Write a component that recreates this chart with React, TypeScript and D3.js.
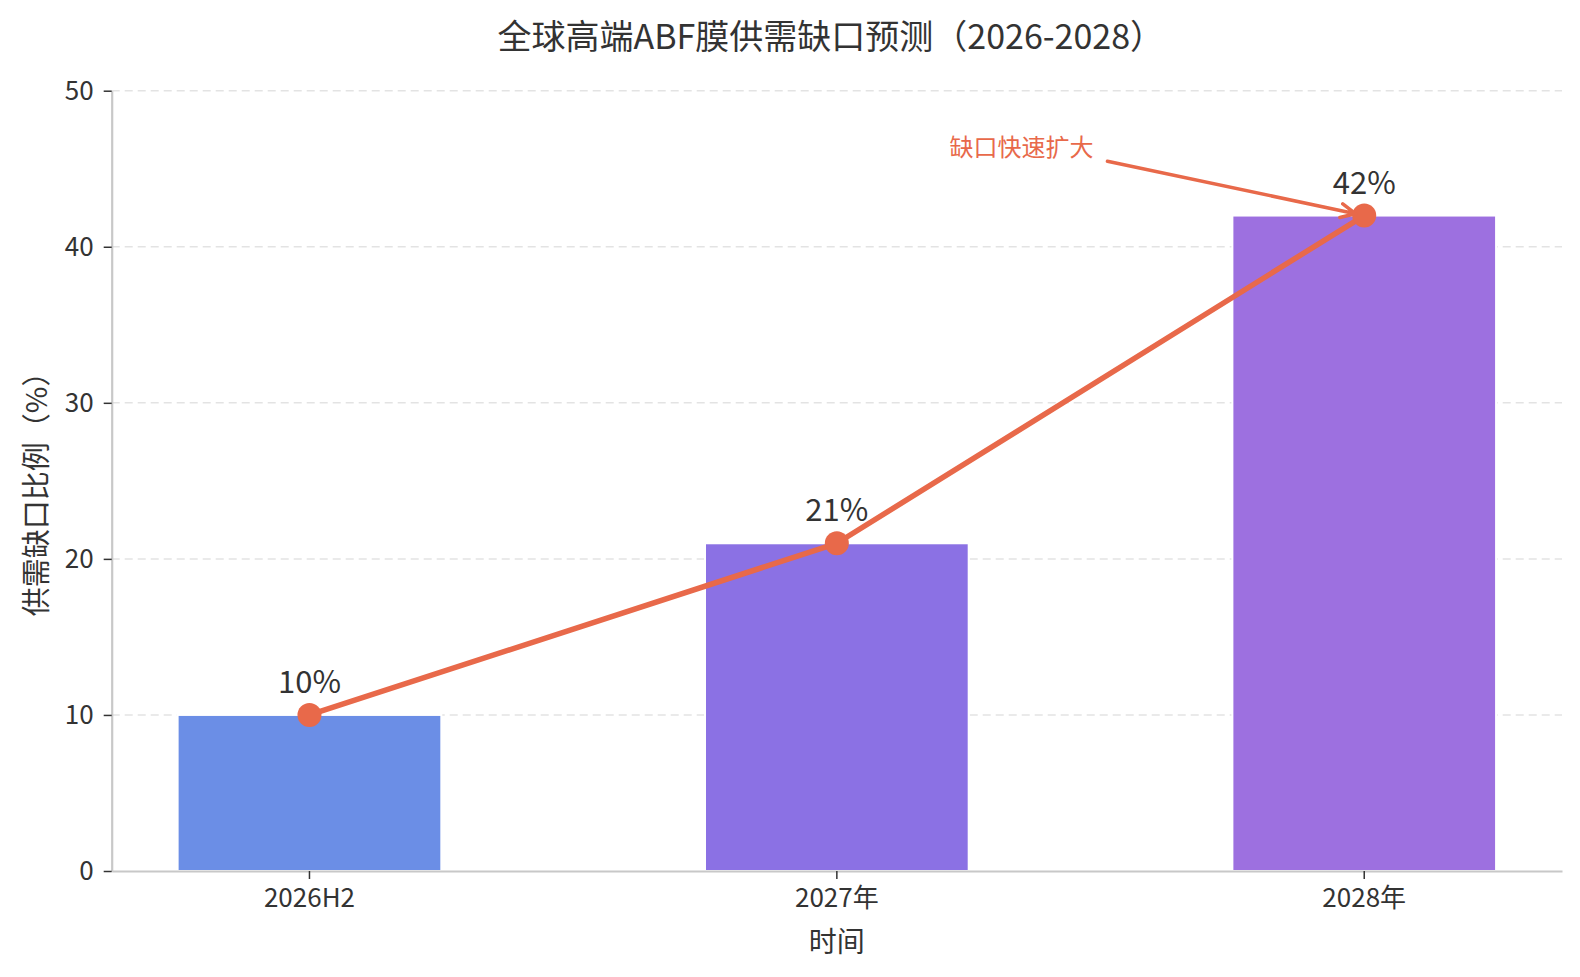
import { useEffect, useRef } from 'react'
import * as d3 from 'd3'

const categories = ['2026H2', '2027年', '2028年']
const gapValues = [10, 21, 42]
const barColors = ['#6b8ee6', '#8b71e4', '#9d70e0']
const yTicks = [0, 10, 20, 30, 40, 50]
const valueLabels = ['10%', '21%', '42%']

const title = '全球高端ABF膜供需缺口预测（2026-2028）'
const xLabel = '时间'
const yLabel = '供需缺口比例（%）'
const noteText = '缺口快速扩大'

const FONT = '"Noto Sans CJK SC", "Noto Sans", sans-serif'
const LINE_COLOR = '#e8694a'
const TEXT_COLOR = '#333333'

export default function App() {
  const svgRef = useRef<SVGSVGElement>(null)

  useEffect(() => {
    if (!svgRef.current) return
    document.body.style.margin = '0'

    const W = 1580
    const H = 977
    const margin = { top: 90.7, right: 18, bottom: 106, left: 111.7 }
    const innerW = W - margin.left - margin.right
    const innerH = H - margin.top - margin.bottom

    const root = d3.select(svgRef.current)
    root.selectAll('*').remove()
    root.attr('width', W).attr('height', H).style('font-family', FONT)

    const svg = root
      .append('g')
      .attr('transform', `translate(${margin.left},${margin.top})`)

    const xScale = d3
      .scaleBand<string>()
      .domain(categories)
      .range([0, innerW])
      .paddingInner(0.5)
      .paddingOuter(0.125)

    const yScale = d3.scaleLinear().domain([0, 50]).range([innerH, 0])

    const cx = (c: string) => (xScale(c) ?? 0) + xScale.bandwidth() / 2

    // grille horizontale
    svg
      .append('g')
      .selectAll('line')
      .data(yTicks.filter((t) => t > 0))
      .join('line')
      .attr('x1', 0)
      .attr('x2', innerW)
      .attr('y1', (d) => yScale(d))
      .attr('y2', (d) => yScale(d))
      .attr('stroke', '#e3e3e3')
      .attr('stroke-width', 1.5)
      .attr('stroke-dasharray', '8,5')

    // barres
    svg
      .append('g')
      .selectAll('rect')
      .data(categories)
      .join('rect')
      .attr('x', (d) => xScale(d) ?? 0)
      .attr('y', (_, i) => yScale(gapValues[i]))
      .attr('width', xScale.bandwidth())
      .attr('height', (_, i) => innerH - yScale(gapValues[i]))
      .attr('fill', (_, i) => barColors[i])
      .attr('stroke', 'white')
      .attr('stroke-width', 2)

    // axes
    svg
      .append('g')
      .attr('transform', `translate(0,${innerH})`)
      .call(d3.axisBottom(xScale).tickSizeInner(8).tickSizeOuter(0).tickPadding(10))
      .call((g) => g.select('.domain').attr('stroke', '#c8c8c8').attr('stroke-width', 2.2))
      .call((g) => g.selectAll('.tick line').attr('stroke', TEXT_COLOR).attr('stroke-width', 1.5))
      .call((g) =>
        g
          .selectAll('.tick text')
          .attr('fill', TEXT_COLOR)
          .attr('font-size', '26px')
          .attr('font-family', FONT)
      )

    svg
      .append('g')
      .call(
        d3.axisLeft(yScale).tickValues(yTicks).tickSizeInner(8).tickSizeOuter(0).tickPadding(10)
      )
      .call((g) => g.select('.domain').attr('stroke', '#c8c8c8').attr('stroke-width', 2.2))
      .call((g) => g.selectAll('.tick line').attr('stroke', TEXT_COLOR).attr('stroke-width', 1.5))
      .call((g) =>
        g
          .selectAll('.tick text')
          .attr('fill', TEXT_COLOR)
          .attr('font-size', '26px')
          .attr('font-family', FONT)
      )

    // courbe
    const points = categories.map((c, i) => ({ x: cx(c), y: yScale(gapValues[i]) }))
    const line = d3
      .line<{ x: number; y: number }>()
      .x((d) => d.x)
      .y((d) => d.y)

    svg
      .append('path')
      .datum(points)
      .attr('fill', 'none')
      .attr('stroke', LINE_COLOR)
      .attr('stroke-width', 5.5)
      .attr('stroke-linejoin', 'round')
      .attr('d', line)

    svg
      .append('g')
      .selectAll('circle')
      .data(points)
      .join('circle')
      .attr('cx', (d) => d.x)
      .attr('cy', (d) => d.y)
      .attr('r', 12)
      .attr('fill', LINE_COLOR)

    // étiquettes de valeur
    svg
      .append('g')
      .selectAll('text')
      .data(points)
      .join('text')
      .attr('x', (d) => d.x)
      .attr('y', (d) => d.y - 22)
      .attr('text-anchor', 'middle')
      .attr('fill', TEXT_COLOR)
      .attr('font-size', '31px')
      .text((_, i) => valueLabels[i])

    // annotation
    const target = points[2]
    const noteX = xScale.step() * -0.65 + target.x
    const noteY = yScale(46.5)
    svg
      .append('text')
      .attr('x', noteX)
      .attr('y', noteY)
      .attr('text-anchor', 'middle')
      .attr('dominant-baseline', 'central')
      .attr('fill', LINE_COLOR)
      .attr('font-size', '24px')
      .text(noteText)

    const tail = { x: noteX + 86, y: noteY + 16 }
    const ang = Math.atan2(target.y - tail.y, target.x - tail.x)
    const tip = { x: target.x - Math.cos(ang) * 9, y: target.y - Math.sin(ang) * 9 }
    const headLen = 16
    const spread = 0.45
    const h1 = {
      x: tip.x - headLen * Math.cos(ang - spread),
      y: tip.y - headLen * Math.sin(ang - spread),
    }
    const h2 = {
      x: tip.x - headLen * Math.cos(ang + spread),
      y: tip.y - headLen * Math.sin(ang + spread),
    }
    svg
      .append('path')
      .attr(
        'd',
        `M${tail.x},${tail.y}L${tip.x},${tip.y}M${h1.x},${h1.y}L${tip.x},${tip.y}L${h2.x},${h2.y}`
      )
      .attr('fill', 'none')
      .attr('stroke', LINE_COLOR)
      .attr('stroke-width', 3.5)
      .attr('stroke-linecap', 'round')
      .attr('stroke-linejoin', 'round')

    // titres
    root
      .append('text')
      .attr('x', margin.left + innerW / 2 - 6)
      .attr('y', 49)
      .attr('text-anchor', 'middle')
      .attr('fill', TEXT_COLOR)
      .attr('font-size', '34px')
      .text(title)

    root
      .append('text')
      .attr('x', margin.left + innerW / 2)
      .attr('y', 952)
      .attr('text-anchor', 'middle')
      .attr('fill', TEXT_COLOR)
      .attr('font-size', '28px')
      .text(xLabel)

    root
      .append('text')
      .attr('transform', `translate(47,${margin.top + innerH / 2 + 6}) rotate(-90)`)
      .attr('text-anchor', 'middle')
      .attr('fill', TEXT_COLOR)
      .attr('font-size', '29px')
      .text(yLabel)
  }, [])

  return <svg ref={svgRef} style={{ display: 'block' }} />
}
